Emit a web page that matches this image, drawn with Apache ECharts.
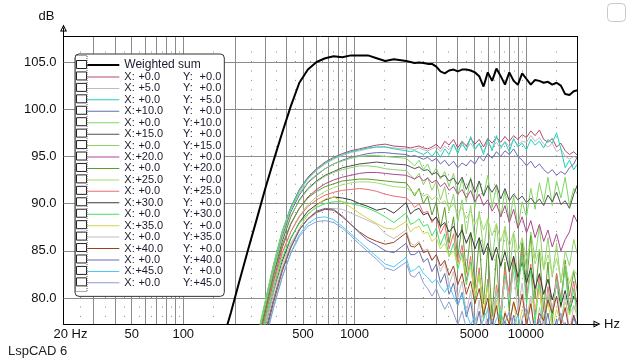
<!DOCTYPE html>
<html><head><meta charset="utf-8">
<script src="https://cdn.jsdelivr.net/npm/echarts@6/dist/echarts.min.js"></script>
<style>html,body{margin:0;padding:0;background:#fff}#c{width:640px;height:360px}</style>
</head><body><div id="c"></div>
<script>
// ---- data ----
const freqs = [150,170,190,212,238,267,300,336,378,424,476,534,600,673,755,848,951,1068,1198,1345,1510,1695,
2000,2120,2240,2380,2520,2670,2830,3000,3170,3360,3560,3780,4000,4240,4490,4760,5040,5340,5660,5990,6350,6730,7130,7550,8000,8480,8980,9510,10080,10680,11310,11990,12700,13450,14250,15100,16000,16950,17960,19030,20000];

const weightedSum = [72.0,75.5,78.5,81.7,85.0,88.2,91.5,94.5,97.5,100.3,102.8,104.2,105.0,105.4,105.6,105.5,105.7,105.7,105.7,105.4,105.1,105.3,
105.1,105.0,104.9,104.95,104.9,104.8,104.8,104.5,104.0,103.8,104.1,104.2,104.0,104.2,104.2,104.1,103.9,103.5,102.4,103.9,103.0,104.3,103.5,102.6,103.9,103.0,102.6,103.8,103.2,102.6,103.1,103.0,102.8,102.9,102.6,102.8,102.5,101.6,101.5,101.9,102.0];

const curveX0Y0 = [null,null,null,66.5,70.5,75.0,79.3,83.4,87.0,89.6,91.5,92.8,93.7,94.4,94.9,95.3,95.6,95.8,96.0,96.2,96.3,96.1,
96.0,95.9,96.0,96.1,95.9,95.8,96.0,96.3,95.8,96.6,96.2,96.8,95.9,96.6,96.1,96.9,96.3,96.8,96.0,96.9,96.4,97.0,96.5,97.1,96.6,97.2,96.8,97.3,97.0,97.7,97.2,97.8,96.8,96.5,96.9,96.0,96.4,95.6,95.2,95.5,95.1];
const curveX5Y0 = [null,null,null,66.3,70.3,74.8,79.0,83.1,86.8,89.4,91.3,92.6,93.5,94.2,94.7,95.1,95.4,95.6,95.8,96.0,96.0,95.9,
95.8,95.8,95.7,95.9,95.7,95.6,95.8,96.0,95.5,96.1,95.7,96.3,95.6,96.2,95.8,96.4,95.7,96.3,95.5,96.4,95.9,96.5,95.8,96.6,96.0,96.8,96.2,96.6,96.5,97.2,96.6,97.0,96.3,96.0,96.4,95.5,95.8,95.0,94.7,95.0,94.8];
const curveX0Y5 = [null,null,null,66.8,70.8,75.3,79.5,83.5,87.1,89.6,91.4,92.7,93.6,94.3,94.8,95.2,95.5,95.7,95.9,96.0,96.0,95.8,
95.6,95.5,95.6,95.4,95.2,95.5,95.0,95.6,94.9,95.8,95.2,96.3,95.3,96.5,95.6,97.1,95.8,96.4,95.2,96.8,95.6,97.2,96.0,96.5,95.5,96.9,96.0,96.4,95.7,96.8,96.2,96.6,95.9,96.8,96.4,97.5,95.8,93.8,94.6,93.6,94.2];
const curveX10Y0 = [null,null,null,66.2,70.2,74.7,78.9,82.9,86.5,89.1,90.9,92.2,93.0,93.7,94.2,94.6,94.9,95.1,95.3,95.4,95.4,95.3,
95.2,95.0,95.1,94.9,94.7,94.9,94.5,94.8,94.2,94.6,94.0,94.5,93.8,94.3,94.0,94.6,94.2,95.0,94.5,95.3,94.8,95.5,95.0,95.6,95.2,95.8,95.0,94.6,94.0,94.5,93.8,94.2,93.6,93.2,93.6,93.0,93.4,93.1,93.8,94.2,95.0];
const curveX0Y10 = [null,null,null,67.0,71.0,75.5,79.6,83.5,87.0,89.4,91.1,92.3,93.1,93.7,94.2,94.5,94.8,95.0,95.1,95.1,95.0,94.9,
94.8,94.4,94.0,94.6,93.6,94.2,93.0,93.8,92.6,93.4,91.8,93.2,90.8,92.6,90.2,92.8,89.6,92.4,90.8,93.0,89.6,91.8,88.6,91.4,88.0,90.8,87.4,90.2,88.6,91.6,89.4,92.2,90.2,92.8,89.8,92.4,90.6,92.8,89.8,91.6,91.0];
const curveX15Y0 = [null,null,null,65.8,69.8,74.2,78.4,82.4,86.0,88.6,90.4,91.6,92.4,93.0,93.4,93.8,94.0,94.2,94.3,94.4,94.3,94.2,
94.1,93.9,93.7,93.9,93.5,93.6,93.1,93.3,92.8,93.0,92.4,92.7,92.0,92.8,91.5,92.6,91.2,92.4,90.8,91.9,91.2,92.0,90.5,91.6,90.3,91.0,90.4,90.8,90.1,90.6,90.0,90.5,89.8,90.9,90.2,91.2,89.9,90.3,89.5,91.0,92.0];
const curveX0Y15 = [null,null,null,66.5,70.5,75.0,79.1,82.9,86.3,88.7,90.3,91.5,92.3,92.9,93.3,93.6,93.8,94.0,94.0,93.9,93.7,93.6,
93.5,93.0,92.6,93.2,92.0,92.8,91.4,92.4,90.4,91.8,89.2,91.0,88.0,90.4,86.8,89.8,86.0,89.2,85.0,88.4,84.0,87.8,83.2,87.6,82.6,86.8,81.8,86.2,83.0,87.0,84.2,87.6,83.0,86.4,82.2,85.8,81.6,85.0,83.4,86.2,84.6];
const curveX20Y0 = [null,null,null,65.4,69.4,73.8,77.9,81.8,85.3,87.8,89.5,90.7,91.5,92.1,92.5,92.8,93.0,93.2,93.3,93.3,93.2,93.1,
93.0,92.8,92.6,92.9,92.4,92.7,92.2,92.5,91.8,92.2,91.4,91.8,91.0,91.5,90.6,91.4,90.2,91.0,89.8,90.4,89.2,90.0,88.6,89.8,88.0,89.4,87.4,88.6,86.9,88.2,86.4,87.8,86.0,87.2,85.4,86.8,85.0,86.2,87.0,88.8,88.0];
const curveX0Y20 = [null,null,null,66.2,70.2,74.6,78.6,82.3,85.6,87.9,89.5,90.6,91.3,91.8,92.1,92.4,92.5,92.6,92.6,92.5,92.4,92.3,
92.2,91.6,90.8,91.6,90.0,90.8,88.8,90.2,87.4,89.6,85.8,88.6,84.2,87.8,82.6,87.0,81.0,86.2,79.4,85.4,78.0,84.6,77.0,83.8,78.6,84.4,80.2,85.8,81.4,86.6,80.0,85.0,78.6,83.8,77.4,82.6,79.0,84.0,80.2,82.8,80.6];
const curveX25Y0 = [null,null,null,65.0,69.0,73.4,77.4,81.2,84.6,87.0,88.7,89.9,90.7,91.3,91.7,92.0,92.2,92.3,92.3,92.2,92.0,91.8,
91.7,91.4,91.1,91.4,90.8,91.0,90.4,90.8,90.0,90.3,89.5,89.9,89.0,89.6,88.4,89.2,87.8,88.8,87.2,88.4,86.6,87.9,86.0,87.5,85.4,87.0,84.8,86.4,84.2,85.8,83.6,85.2,83.0,84.6,82.5,84.2,82.0,83.6,81.5,83.0,82.4];
const curveX0Y25 = [null,null,null,65.8,69.8,74.1,78.0,81.6,84.8,87.0,88.6,89.7,90.4,90.9,91.2,91.4,91.5,91.6,91.5,91.3,91.0,90.8,
90.6,90.2,89.6,90.0,89.0,89.2,88.0,88.6,86.8,87.8,85.2,86.8,83.6,85.6,81.8,84.4,79.8,83.2,77.6,82.0,76.0,81.4,78.6,83.0,80.4,84.2,81.6,85.0,80.0,83.6,78.2,82.4,76.8,81.2,78.4,82.6,80.0,83.4,79.0,81.8,78.6];
const curveX30Y0 = [null,null,null,64.6,68.6,72.9,76.9,80.6,83.9,86.3,88.0,89.2,89.9,90.4,90.7,90.6,90.4,90.0,89.7,89.3,89.5,89.0,
90.1,88.9,89.3,89.5,88.8,89.0,88.2,88.6,87.6,88.0,87.0,87.6,86.4,87.2,85.8,86.9,85.2,86.4,84.6,85.8,84.0,85.4,83.4,84.9,82.8,84.4,82.2,83.8,81.6,83.2,81.0,82.6,80.4,82.0,79.8,81.5,79.2,80.8,78.6,80.2,79.5];
const curveX0Y30 = [null,null,null,65.5,69.5,73.8,77.6,81.1,84.2,86.4,87.9,88.9,89.6,90.0,90.2,90.2,90.0,89.8,89.5,89.1,88.6,88.0,
89.0,87.8,88.0,88.4,87.6,87.8,86.6,87.4,85.6,86.8,84.4,85.8,83.0,84.8,81.4,83.8,79.6,82.6,77.8,81.6,76.2,80.8,77.8,82.4,79.6,83.6,81.0,84.6,79.4,83.0,77.4,81.6,76.0,80.2,78.0,82.0,79.6,83.2,78.2,81.0,77.6];
const curveX35Y0 = [null,null,null,64.2,68.2,72.4,76.3,79.9,83.2,85.6,87.4,88.8,89.8,90.5,90.7,90.2,89.6,89.0,88.4,87.9,87.4,87.3,
88.1,87.0,87.4,87.6,86.8,87.0,86.0,86.4,85.2,85.8,84.4,85.0,83.6,84.2,82.6,83.2,80.2,82.4,78.6,81.2,77.0,79.8,76.2,78.6,77.4,79.6,76.6,78.8,77.8,80.2,78.8,80.8,77.8,79.6,76.6,78.8,77.4,79.6,78.2,79.2,78.0];
const curveX0Y35 = [null,null,null,65.0,69.0,73.2,77.0,80.5,83.6,85.8,87.3,88.3,89.0,89.4,89.5,89.4,89.0,88.6,88.2,87.8,86.8,86.3,
87.2,85.8,85.6,86.0,85.0,85.2,84.0,84.6,82.8,83.8,81.4,82.8,80.0,81.8,78.4,80.8,76.8,79.8,75.5,79.0,77.0,80.8,78.6,82.0,79.8,82.8,78.6,81.6,76.8,80.2,75.4,79.0,77.0,80.6,78.6,81.8,77.4,80.4,76.4,79.2,78.0];
const curveX40Y0 = [null,null,null,63.8,67.8,72.0,75.9,79.5,82.8,85.3,87.2,88.4,89.1,89.4,89.3,88.6,87.8,87.0,86.4,86.0,85.7,85.9,
86.9,85.5,85.4,85.8,84.8,85.0,84.0,84.6,83.4,84.0,82.4,83.4,81.4,82.6,80.4,81.8,79.4,81.0,78.2,80.0,77.0,79.2,76.0,78.4,77.2,79.6,78.0,80.4,77.0,79.4,76.2,78.4,77.6,79.8,78.4,80.2,77.2,79.0,76.4,78.2,77.0];
const curveX0Y40 = [null,null,null,64.4,68.4,72.5,76.3,79.8,83.0,85.4,87.2,88.4,89.2,89.5,89.4,88.7,87.8,86.9,86.1,85.6,85.0,84.8,
85.8,84.6,84.6,85.0,83.8,84.2,82.8,83.6,81.6,82.6,80.4,81.6,79.2,80.6,78.0,79.6,76.6,78.6,75.4,77.8,74.5,76.5,75.5,77.6,76.2,78.2,75.6,77.6,74.8,76.8,75.8,77.8,76.4,78.4,75.6,77.8,75.2,77.4,76.0,78.0,76.6];
const curveX45Y0 = [null,null,null,63.5,67.4,71.5,75.3,78.9,82.2,84.8,86.7,87.9,88.5,88.6,88.3,87.6,86.8,86.0,85.2,84.4,83.6,83.3,
84.3,82.8,83.0,83.4,82.6,82.2,81.6,82.0,81.2,80.6,81.4,80.2,79.2,80.4,78.4,77.2,78.0,76.4,77.8,78.8,76.5,77.8,78.6,76.8,75.5,77.2,78.2,76.0,74.8,76.4,77.6,75.8,74.6,76.2,77.4,75.6,74.4,76.0,77.0,75.2,74.8];
const curveX0Y45 = [null,null,null,63.8,67.8,71.9,75.6,79.0,82.2,84.7,86.5,87.6,88.1,88.2,88.0,87.4,86.6,85.7,84.9,84.1,83.2,82.9,
83.8,82.4,82.2,82.8,81.6,81.0,80.2,81.0,79.8,78.8,79.6,78.4,77.2,78.6,76.8,75.8,77.0,75.6,74.6,76.2,77.8,76.4,75.0,77.4,78.6,77.0,75.6,77.8,79.0,77.2,75.8,77.6,78.8,76.8,75.4,77.2,78.4,76.6,75.2,76.8,77.6];

const xAngles = ['+0.0','+5.0','+0.0','+10.0','+0.0','+15.0','+0.0','+20.0','+0.0','+25.0','+0.0','+30.0','+0.0','+35.0','+0.0','+40.0','+0.0','+45.0','+0.0'];
const yAngles = ['+0.0','+0.0','+5.0','+0.0','+10.0','+0.0','+15.0','+0.0','+20.0','+0.0','+25.0','+0.0','+30.0','+0.0','+35.0','+0.0','+40.0','+0.0','+45.0'];
const curveValues = [curveX0Y0,curveX5Y0,curveX0Y5,curveX10Y0,curveX0Y10,curveX15Y0,curveX0Y15,curveX20Y0,curveX0Y20,curveX25Y0,curveX0Y25,curveX30Y0,curveX0Y30,curveX35Y0,curveX0Y35,curveX40Y0,curveX0Y40,curveX45Y0,curveX0Y45];
const curveColors = ['#b8486a','#c4b6c8','#1ed2b4','#6a6ab4','#7cd860','#505050','#8ed46a','#b0468e','#5c9c2c','#a6dc72','#f06a74','#3a3a3a','#44e064','#d4d44c','#c2bebe','#9c4020','#6c6cac','#50c8f0','#8c9cd4'];

const xLabelValues = [20,50,100,500,1000,5000,10000];
const yLabelValues = [80,85,90,95,100,105];
const xGridValues = [30,40,50,60,70,80,90,100,200,300,400,500,600,700,800,900,1000,2000,3000,4000,5000,6000,7000,8000,9000,10000];
const yGridValues = [80,85,90,95,100,105];
const xDotValues = [25,35,45,55,65,75,85,95,150,250,350,450,550,650,750,850,950,1500,2500,3500,4500,5500,6500,7500,8500,9500,15000];

// ---- chart ----
const FONT = 'Liberation Sans, Arial, sans-serif';
const X_MIN = 20, X_END = 20000, X_MAX = 26000;
const Y_MIN = 77.25, Y_TOP = 107.75, Y_MAX = 108.6;
const pxPerDb = 296 / (Y_MAX - Y_MIN);
const arrow = 'path://M5,0L10,10L0,10Z M5,3.2L2.2,8.6L7.8,8.6Z';

function pairs(vals){ return freqs.map((f,i)=>[f, vals[i]]).filter(p=>p[1]!=null); }
const names = xAngles.map((x,i)=>'X:'+x+' Y:'+yAngles[i]);
const allNames = ['Weighted sum'].concat(names);

const lineOff = {symbol:['none','none'], label:{show:false}, silent:true, animation:false, emphasis:{disabled:true}};

const series = [];
series.push({type:'line', name:'__grid', data:[], silent:true,
  markLine: Object.assign({z:1, lineStyle:{color:'#8c8c8c', width:1, type:'solid'},
    data: xGridValues.map(f=>[{coord:[f,Y_MIN]},{coord:[f,Y_TOP]}])
      .concat(yGridValues.map(v=>[{coord:[X_MIN,v]},{coord:[X_END,v]}]))}, lineOff)});
series.push({type:'line', name:'__dots', data:[], silent:true,
  markLine: Object.assign({z:1, lineStyle:{color:'#8a8a8a', width:1, type:[1, pxPerDb-1]},
    data: xDotValues.map(f=>[{coord:[f,78]},{coord:[f,107]}])}, lineOff)});
curveValues.forEach((vals,i)=>{
  series.push({type:'line', name:names[i], data:pairs(vals), showSymbol:false, symbol:'none',
    lineStyle:{width:1, color:curveColors[i]}, itemStyle:{color:curveColors[i]}, z:3, silent:true});
});
series.push({type:'line', name:'Weighted sum', data:pairs(weightedSum), showSymbol:false, symbol:'none',
  lineStyle:{width:2, color:'#000'}, itemStyle:{color:'#000'}, z:4, silent:true});
series.push({type:'line', name:'__frame', data:[], silent:true,
  markLine: Object.assign({z:6, lineStyle:{color:'#000', width:1, type:'solid'},
    data:[[{coord:[X_MIN,Y_TOP]},{coord:[X_END,Y_TOP]}],[{coord:[X_END,Y_MIN]},{coord:[X_END,Y_TOP]}]]}, lineOff)});

function legendText(name){
  if (name === 'Weighted sum') return '{w|Weighted sum}';
  const m = name.match(/^X:(\S+) Y:(\S+)$/);
  return '{xl|X:}{xv|'+m[1]+'}{sp| }{yl|Y:}{yv|'+m[2]+'}';
}
const TC = '#1a1a2e';
const rich = {
  w:{fontSize:12, lineHeight:11, fontFamily:FONT, color:TC},
  xl:{width:11, fontSize:11, lineHeight:11, fontFamily:FONT, color:TC},
  xv:{width:28, align:'right', fontSize:11, lineHeight:11, fontFamily:FONT, color:TC},
  sp:{width:19, fontSize:11, lineHeight:11},
  yl:{width:11, fontSize:11, lineHeight:11, fontFamily:FONT, color:TC},
  yv:{width:28, align:'right', fontSize:11, lineHeight:11, fontFamily:FONT, color:TC}
};

const option = {
  animation:false,
  backgroundColor:'#fff',
  textStyle:{fontFamily:FONT},
  grid:{left:63.5, top:28, width:533.5, height:296, containLabel:false, outerBoundsMode:'none'},
  xAxis:{type:'log', logBase:10, min:X_MIN, max:X_MAX,
    axisLine:{show:true, lineStyle:{color:'#000', width:1}, symbol:['none', arrow], symbolSize:[7,8]},
    axisTick:{show:false}, splitLine:{show:false}, minorTick:{show:false}, minorSplitLine:{show:false},
    axisLabel:{customValues:xLabelValues, margin:4, fontSize:13, color:'#111', fontFamily:FONT,
      formatter:function(v){ return v===20 ? '{a|20 Hz}' : String(v); },
      rich:{a:{fontSize:13, color:'#111', fontFamily:FONT, padding:[0,0,0,14]}}},
    name:'Hz', nameLocation:'end', nameGap:7,
    nameTextStyle:{fontSize:13, color:'#111', fontFamily:FONT, padding:[0,0,4,0]}},
  yAxis:{type:'value', min:Y_MIN, max:Y_MAX,
    axisLine:{show:true, lineStyle:{color:'#000', width:1}, symbol:['none', arrow], symbolSize:[7,8]},
    axisTick:{show:false}, splitLine:{show:false},
    axisLabel:{customValues:yLabelValues, margin:7, fontSize:13, color:'#111', fontFamily:FONT,
      formatter:function(v){ return Number(v).toFixed(1); }},
    name:'dB', nameLocation:'end', nameGap:5,
    nameTextStyle:{fontSize:13, color:'#111', fontFamily:FONT, align:'right', padding:[0,9,0,0]}},
  legend:[{
    orient:'vertical', left:75, top:54, padding:[5,3,8,12.3],
    itemWidth:32, itemHeight:11, itemGap:0.44,
    backgroundColor:'#fff', borderColor:'#333', borderWidth:1, borderRadius:4,
    selectedMode:false, z:4,
    itemStyle:{borderWidth:0},
    textStyle:{fontSize:11, lineHeight:11, fontFamily:FONT, color:TC, rich:rich},
    formatter:legendText,
    data: allNames.map(n=>({name:n, icon: n==='Weighted sum' ? 'path://M0,0H16V1H0Z' : 'path://M0,0H32V1H0Z'}))
  },{
    orient:'vertical', left:76, top:59, padding:0,
    itemWidth:10, itemHeight:8, itemGap:0.44,
    selectedMode:false, z:6,
    textStyle:{fontSize:11, lineHeight:11, fontFamily:FONT},
    formatter:function(){ return ' '; },
    data: allNames.map(n=>({name:n, icon:'rect', itemStyle:{color:'#fff', borderColor:'#222', borderWidth:1}}))
  }],
  graphic:[
    {type:'rect', z:10, silent:true, shape:{x:75.5, y:55.5, width:11.5, height:236}, style:{fill:null, stroke:'#555', lineWidth:1, lineDash:[1,1]}},
    {type:'rect', z:10, silent:true, shape:{x:607.5, y:3.5, width:18, height:18, r:4}, style:{fill:'#fff', stroke:'#c8c8c8', lineWidth:1}},
    {type:'text', z:10, silent:true, left:8, top:345, style:{text:'LspCAD 6', fontSize:13, fontFamily:FONT, fill:'#222'}}
  ],
  series:series
};
const chart = echarts.init(document.getElementById('c'), null, {renderer:'canvas'});
chart.setOption(option);
</script>
</body></html>
